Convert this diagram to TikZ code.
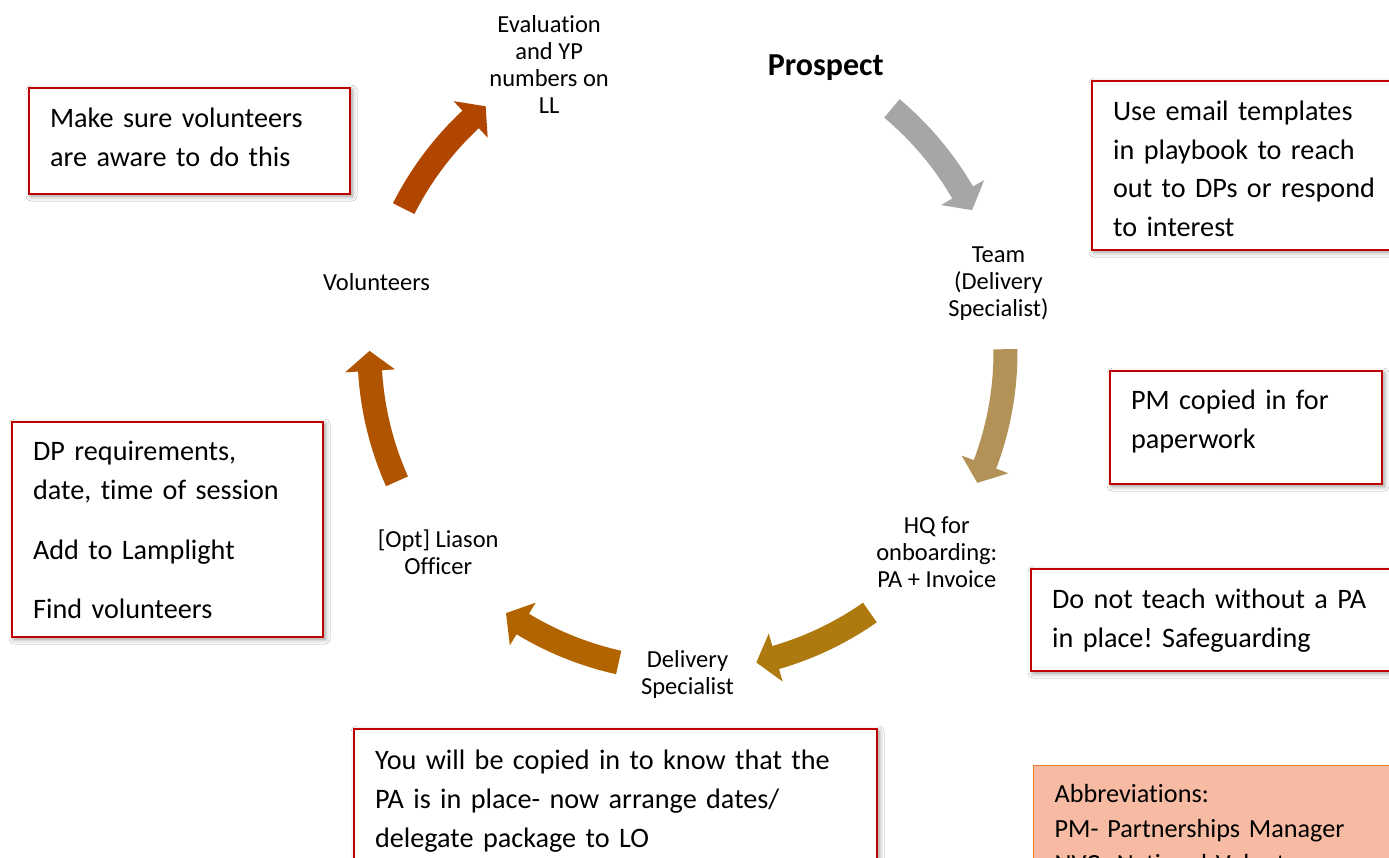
\documentclass[tikz,border=0pt]{standalone}
\usepackage{fontspec}
\setmainfont{Carlito}[Ligatures=CommonOff]
\frenchspacing
\usetikzlibrary{calc}
\usetikzlibrary{shadows.blur}
\definecolor{boxred}{RGB}{192,0,0}
\definecolor{abbrfill}{RGB}{247,187,164}
\definecolor{abbrline}{RGB}{237,125,49}
\definecolor{arrowgray}{RGB}{166,166,166}
\definecolor{arrowtan}{RGB}{178,146,86}
\definecolor{arrowgold}{RGB}{174,122,16}
\definecolor{arrowochre}{RGB}{178,100,0}
\definecolor{arrowrust}{RGB}{177,84,0}
\definecolor{arrowbrown}{RGB}{176,70,0}

\begin{document}
\begin{tikzpicture}[x=1pt,y=1pt,yscale=-1,xscale=1,
  notebox/.style={draw=boxred, line width=2.2pt, fill=white, anchor=north west, align=left,
    inner xsep=21pt, inner ysep=0pt, font=\fontsize{28.2}{38.7}\selectfont,
    blur shadow={shadow xshift=2pt, shadow yshift=-2pt, shadow blur radius=5pt, shadow opacity=45}},
  steplabel/.style={align=center, inner sep=0pt, font=\fontsize{24.5}{27}\selectfont}]
\useasboundingbox (0,0) rectangle (1389,858);
\clip (0,0) rectangle (1389,858);
\fill[white] (0,0) rectangle (1389,858);

%centre of the cycle
\coordinate (ctr) at (687.5,352);

%Shape: Circular Arrow  prospect -> team
\fill[arrowgray] ($(ctr)+(-50:330)$) arc[start angle=-50, end angle=-30.1, radius=330] -- ($(ctr)+(-30.1:343)$) -- ($(ctr)+(-26.5:318)$) -- ($(ctr)+(-30.1:293)$) -- ($(ctr)+(-30.1:306)$) arc[start angle=-30.1, end angle=-50, radius=306] -- cycle;
%Shape: Circular Arrow  team -> hq
\fill[arrowtan] ($(ctr)+(-0.5:330)$) arc[start angle=-0.5, end angle=20.7, radius=330] -- ($(ctr)+(20.7:343)$) -- ($(ctr)+(24.3:318)$) -- ($(ctr)+(20.7:293)$) -- ($(ctr)+(20.7:306)$) arc[start angle=20.7, end angle=-0.5, radius=306] -- cycle;
%Shape: Circular Arrow  hq -> delivery
\fill[arrowgold] ($(ctr)+(55:330)$) arc[start angle=55, end angle=73.9, radius=330] -- ($(ctr)+(73.9:343)$) -- ($(ctr)+(77.5:318)$) -- ($(ctr)+(73.9:293)$) -- ($(ctr)+(73.9:306)$) arc[start angle=73.9, end angle=55, radius=306] -- cycle;
%Shape: Circular Arrow  delivery -> liason
\fill[arrowochre] ($(ctr)+(102.5:330)$) arc[start angle=102.5, end angle=121.2, radius=330] -- ($(ctr)+(121.2:343)$) -- ($(ctr)+(124.8:318)$) -- ($(ctr)+(121.2:293)$) -- ($(ctr)+(121.2:306)$) arc[start angle=121.2, end angle=102.5, radius=306] -- cycle;
%Shape: Circular Arrow  liason -> volunteers
\fill[arrowrust] ($(ctr)+(156:330)$) arc[start angle=156, end angle=176.6, radius=330] -- ($(ctr)+(176.6:343)$) -- ($(ctr)+(180.2:318)$) -- ($(ctr)+(176.6:293)$) -- ($(ctr)+(176.6:306)$) arc[start angle=176.6, end angle=156, radius=306] -- cycle;
%Shape: Circular Arrow  volunteers -> evaluation
\fill[arrowbrown] ($(ctr)+(206.8:330)$) arc[start angle=206.8, end angle=227, radius=330] -- ($(ctr)+(227:343)$) -- ($(ctr)+(230.6:318)$) -- ($(ctr)+(227:293)$) -- ($(ctr)+(227:306)$) arc[start angle=227, end angle=206.8, radius=306] -- cycle;

% Text Node
\node[steplabel, font=\fontsize{32}{36}\bfseries] (prospect) at ($(ctr)+(-64.3:319)+(0,3)$) {Prospect};
% Text Node
\node[steplabel] (team) at ($(ctr)+(-12.9:319)+(0,3)$) {Team\\(Delivery\\Specialist)};
% Text Node
\node[steplabel] (hq) at ($(ctr)+(38.6:319)+(0,1)$) {HQ for\\onboarding:\\PA + Invoice};
% Text Node
\node[steplabel] (delivery) at ($(ctr)+(90:319)+(0,3)$) {Delivery\\Specialist};
% Text Node
\node[steplabel] (liason) at ($(ctr)+(141.4:319)+(0,1)$) {[Opt] Liason\\Officer};
% Text Node
\node[steplabel] (volunteers) at ($(ctr)+(192.9:319)+(0,1)$) {Volunteers};
% Text Node
\node[steplabel] (evaluation) at ($(ctr)+(244.3:319)$) {Evaluation\\and YP\\numbers on\\LL};

%Shape: Rectangle  notes
\node[notebox, text width=279pt, minimum height=106pt, text height=18.7pt, text depth=45.7pt] (awarenote) at (28,87) {Make sure volunteers\\are aware to do this};
\node[notebox, text width=290pt, minimum height=169pt, text height=33.1pt, text depth=123.1pt] (emailnote) at (1091,80) {Use email templates\\in playbook to reach\\out to DPs or respond\\to interest};
\node[notebox, text width=230pt, minimum height=113pt, text height=9.7pt, text depth=45.7pt] (pmnote) at (1109,370) {PM copied in for\\paperwork};
\node[notebox, text width=269pt, minimum height=215pt, text height=27.1pt, text depth=165.1pt] (dpnote) at (11,421) {DP requirements,\\date, time of session\\[21pt]Add to Lamplight\\[21pt]Find volunteers};
\node[notebox, text width=328pt, minimum height=102pt, text height=22.7pt, text depth=45.7pt] (panote) at (1030,568) {Do not teach without a PA\\in place! Safeguarding};
\node[notebox, text width=481pt, minimum height=140pt, text height=25.4pt, text depth=84.4pt] (copynote) at (353,728) {You will be copied in to know that the\\PA is in place- now arrange dates/\\delegate package to LO};

%Shape: Rectangle  abbreviations
\node[draw=abbrline, line width=1.3pt, fill=abbrfill, anchor=north west, align=left, inner xsep=21pt, inner ysep=0pt,
  text width=328pt, minimum height=126pt, text height=23.6pt, text depth=76pt, font=\fontsize{26.2}{35}\selectfont] (abbrev) at (1033,765)
  {Abbreviations:\\PM- Partnerships Manager\\NVC- National Volunteers};

\end{tikzpicture}
\end{document}
